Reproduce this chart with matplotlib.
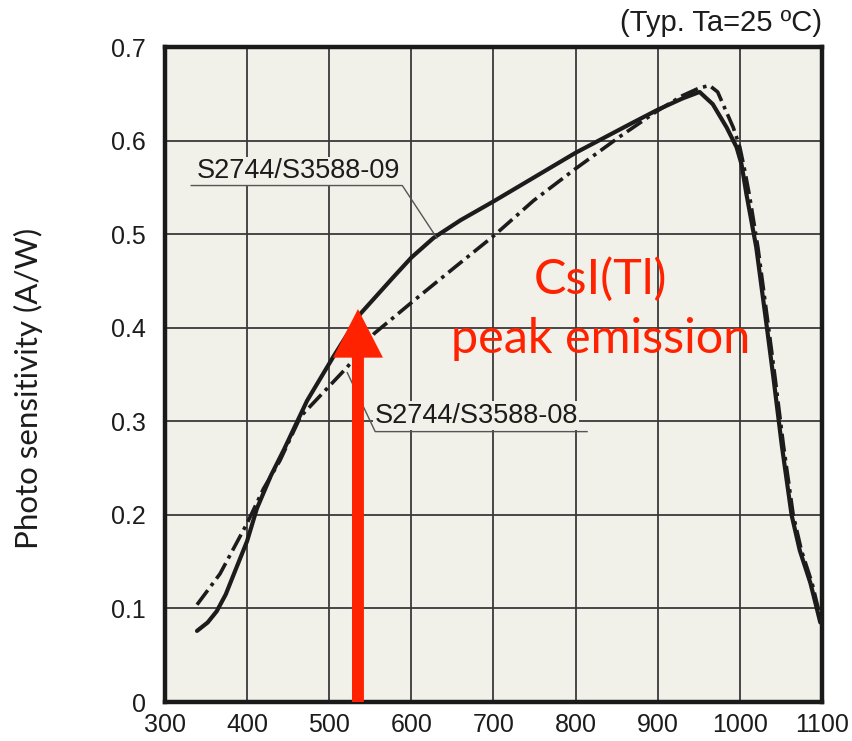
import matplotlib
matplotlib.use('Agg')
import matplotlib.pyplot as plt

# S2744/S3588-09 (solid)
wl_09 = [339, 352, 363, 374, 384, 400, 412, 429, 445, 473, 505, 538, 578, 600, 627, 660, 700, 750, 800,
         867, 900, 930, 951, 967, 984, 996, 1002, 1008, 1020, 1033, 1041, 1051, 1063, 1073, 1086, 1098]
sens_09 = [0.076, 0.085, 0.097, 0.115, 0.137, 0.172, 0.207, 0.242, 0.270, 0.322, 0.369, 0.415, 0.454,
           0.475, 0.496, 0.515, 0.535, 0.561, 0.587, 0.618, 0.633, 0.645, 0.652, 0.639, 0.614, 0.593,
           0.575, 0.543, 0.486, 0.400, 0.346, 0.275, 0.200, 0.162, 0.127, 0.085]

# S2744/S3588-08 (dash-dot)
wl_08 = [339, 367, 400, 420, 440, 465, 522, 555, 603, 652, 700, 749, 800, 855, 900, 930, 950, 963,
         973, 981, 992, 1000, 1006, 1012, 1022, 1035, 1043, 1053, 1065, 1075, 1088, 1099]
sens_08 = [0.104, 0.137, 0.191, 0.228, 0.258, 0.305, 0.358, 0.394, 0.429, 0.464, 0.498, 0.536, 0.570,
           0.605, 0.632, 0.648, 0.656, 0.659, 0.652, 0.636, 0.614, 0.593, 0.568, 0.540, 0.486, 0.400,
           0.346, 0.275, 0.200, 0.162, 0.127, 0.087]

x_ticks = [300, 400, 500, 600, 700, 800, 900, 1000, 1100]
y_ticks = [0, 0.1, 0.2, 0.3, 0.4, 0.5, 0.6, 0.7]
y_tick_labels = ['0', '0.1', '0.2', '0.3', '0.4', '0.5', '0.6', '0.7']

csi_peak = 535      # nm
csi_arrow_top = 0.42

bg = '#f1f0e9'
ink = '#1c1c1c'
red = '#ff2200'

fig = plt.figure(figsize=(8.53, 7.41), dpi=100)
ax = fig.add_axes([0.1934, 0.0526, 0.7702, 0.8839])
ax.set_facecolor(bg)

ax.plot(wl_09, sens_09, color=ink, lw=3, solid_capstyle='round', solid_joinstyle='round', zorder=3)
ax.plot(wl_08, sens_08, color=ink, lw=2.6, dashes=(5, 1.5, 1, 1.5), zorder=3)

ax.set_xlim(300, 1100)
ax.set_ylim(0, 0.7)
ax.set_xticks(x_ticks)
ax.set_yticks(y_ticks)
ax.set_yticklabels(y_tick_labels)
ax.grid(True, color='#3a3a3a', lw=1.3, zorder=1)
ax.set_axisbelow(True)
ax.tick_params(length=0, labelsize=18, labelcolor=ink)
ax.tick_params(axis='y', pad=14)
ax.tick_params(axis='x', pad=8)
for lab in ax.get_xticklabels() + ax.get_yticklabels():
    lab.set_family('Liberation Sans')
for sp in ax.spines.values():
    sp.set_linewidth(3.2)
    sp.set_color('#1a1a1a')

ax.set_ylabel('Photo sensitivity (A/W)', fontsize=22.5, family='Lato', color=ink)
ax.yaxis.set_label_coords(-0.186, 0.479)
fig.text(0.9637, 0.969, '(Typ. Ta=25 ºC)', ha='right', va='center', fontsize=21,
         family='Liberation Sans', color=ink)

# curve labels with leaders
box = dict(facecolor=bg, edgecolor='none', pad=1)
ax.text(462, 0.567, 'S2744/S3588-09', ha='center', va='center', fontsize=19.5,
        family='Liberation Sans', color=ink, bbox=box, zorder=4)
ax.plot([332, 589, 631], [0.552, 0.552, 0.496], color='#555555', lw=1, zorder=4)
ax.text(679, 0.306, 'S2744/S3588-08', ha='center', va='center', fontsize=19.5,
        family='Liberation Sans', color=ink, bbox=box, zorder=4)
ax.plot([814, 556, 522], [0.289, 0.289, 0.352], color='#555555', lw=1, zorder=4)

# CsI(Tl) peak emission arrow
ax.annotate('', xy=(csi_peak, csi_arrow_top), xytext=(csi_peak, 0),
            arrowprops=dict(facecolor=red, edgecolor='none', width=8.6, headwidth=36,
                            headlength=35, shrink=0), zorder=5)
ax.text(830, 0.4365, 'CsI(Tl)', ha='center', va='baseline', fontsize=35, family='Lato', color=red)
ax.text(830, 0.3725, 'peak emission', ha='center', va='baseline', fontsize=35, family='Lato', color=red)

fig.savefig('out.png', dpi=100)
